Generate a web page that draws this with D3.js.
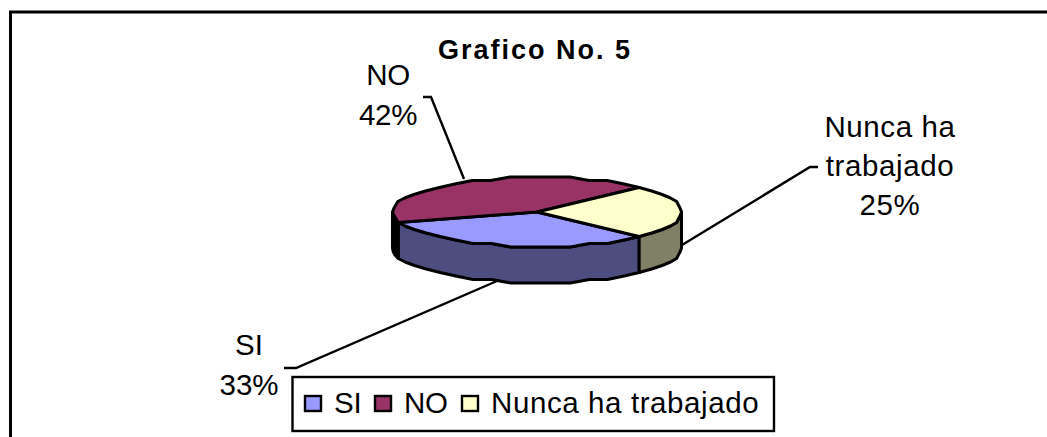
<!DOCTYPE html>
<html>
<head>
<meta charset="utf-8">
<script src="https://cdn.jsdelivr.net/npm/d3@7"></script>
<style>
html, body { margin: 0; padding: 0; background: #fff; }
svg { display: block; }
text { font-family: "Liberation Sans", Arial, sans-serif; fill: #000; }
</style>
</head>
<body>
<script>
// pie data
var categories = ["SI", "NO", "Nunca ha trabajado"];
var percents = [33, 42, 25];
var sliceColors = ["#9999FF", "#993366", "#FFFFCC"];
var sideColors = ["#4D4D80", "#000000", "#808066"];
var chartTitle = "Grafico No. 5";

var width = 1047, height = 437;
var svg = d3.select("body").append("svg")
    .attr("width", width)
    .attr("height", height);

// chart frame, open at the bottom and right like the source
svg.append("path")
    .attr("d", "M10.5,437V12H1047")
    .attr("fill", "none")
    .attr("stroke", "#000")
    .attr("stroke-width", 3);

svg.append("text")
    .attr("x", 535)
    .attr("y", 59)
    .attr("text-anchor", "middle")
    .attr("font-size", 27)
    .attr("font-weight", "bold")
    .attr("letter-spacing", 2)
    .text(chartTitle);

// pie geometry
var cx = 537, cy = 212, rx = 144.5, ry = 35, depth = 36;
var startAngle = Math.PI * 0.75;

var pie = d3.pie().sort(null)
    .startAngle(startAngle)
    .endAngle(startAngle + 2 * Math.PI);
var arcs = pie(percents);

// the source outline is stepped, so the rim y is snapped to a coarse grid
function rim(a, dy) {
    var y = -ry * Math.cos(a);
    return [cx + rx * Math.sin(a), cy + Math.round(y / 3.5) * 3.5 + (dy || 0)];
}

function rimPoints(a0, a1, dy) {
    var n = Math.max(2, Math.ceil((a1 - a0) / 0.14));
    return d3.range(n + 1).map(function(i) {
        return rim(a0 + (a1 - a0) * i / n, dy);
    });
}

var line = d3.line();

// front wall: visible part of the rim is between 90 and 270 degrees
var wallFrom = Math.PI / 2, wallTo = Math.PI * 1.5;
arcs.forEach(function(d, i) {
    var pieces = [[d.startAngle, d.endAngle], [d.startAngle - 2 * Math.PI, d.endAngle - 2 * Math.PI]];
    pieces.forEach(function(p) {
        var a0 = Math.max(p[0], wallFrom), a1 = Math.min(p[1], wallTo);
        if (a1 <= a0) return;
        var top = rimPoints(a0, a1, 0);
        var bottom = rimPoints(a0, a1, depth).reverse();
        svg.append("path")
            .attr("d", line(top.concat(bottom)) + "Z")
            .attr("fill", sideColors[i])
            .attr("stroke", "#000")
            .attr("stroke-width", 3)
            .attr("stroke-linejoin", "round");
    });
});

// top faces
arcs.forEach(function(d, i) {
    svg.append("path")
        .attr("d", line([[cx, cy]].concat(rimPoints(d.startAngle, d.endAngle, 0))) + "Z")
        .attr("fill", sliceColors[i])
        .attr("stroke", "#000")
        .attr("stroke-width", 3)
        .attr("stroke-linejoin", "round");
});

// data labels
var labels = [
    { lines: ["NO", "42%"], x: 388, y: 85, pitch: 40, spacing: -0.3 },
    { lines: ["Nunca ha", "trabajado", "25%"], x: 890, y: 137, pitch: 39, spacing: 0.6 },
    { lines: ["SI", "33%"], x: 249, y: 355, pitch: 40, spacing: 0 }
];
labels.forEach(function(l) {
    l.lines.forEach(function(s, j) {
        svg.append("text")
            .attr("x", l.x)
            .attr("y", l.y + j * l.pitch)
            .attr("text-anchor", "middle")
            .attr("font-size", 29.5)
            .attr("letter-spacing", l.spacing)
            .text(s);
    });
});

// leader lines
var leaders = [
    [[423, 97], [431, 97], [464, 179]],
    [[818, 167], [810, 167], [682, 245]],
    [[284, 368], [296, 368], [497, 281]]
];
leaders.forEach(function(pts) {
    svg.append("path")
        .attr("d", line(pts))
        .attr("fill", "none")
        .attr("stroke", "#000")
        .attr("stroke-width", 2.4);
});

// legend
var legend = svg.append("g");
legend.append("rect")
    .attr("x", 292.5)
    .attr("y", 377)
    .attr("width", 481.5)
    .attr("height", 54)
    .attr("fill", "#fff")
    .attr("stroke", "#000")
    .attr("stroke-width", 2.4);

var legendX = d3.scaleOrdinal().domain(categories).range([305, 375, 462]);
categories.forEach(function(c, i) {
    legend.append("rect")
        .attr("x", legendX(c))
        .attr("y", 396)
        .attr("width", 16)
        .attr("height", 15)
        .attr("fill", sliceColors[i])
        .attr("stroke", "#000")
        .attr("stroke-width", 2.4);
    legend.append("text")
        .attr("x", legendX(c) + 29)
        .attr("y", 413)
        .attr("font-size", 29.5)
        .attr("letter-spacing", i == 2 ? 0.6 : -0.3)
        .text(c);
});
</script>
</body>
</html>
